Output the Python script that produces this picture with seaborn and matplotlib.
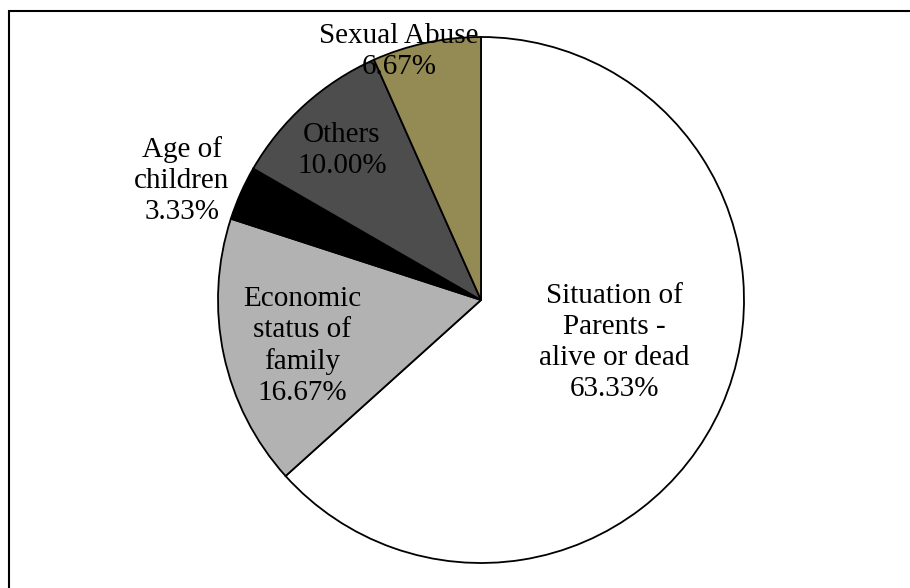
import matplotlib
matplotlib.use("Agg")
import matplotlib.pyplot as plt
import seaborn as sns
from matplotlib.patches import Rectangle

categories = ["Situation of\nParents -\nalive or dead", "Economic\nstatus of\nfamily",
              "Age of\nchildren", "Others", "Sexual Abuse"]
values = [63.33, 16.67, 3.33, 10.00, 6.67]
colors = ["#FFFFFF", "#B2B2B2", "#000000", "#4D4D4D", "#948A54"]
# label positions (in units of radius)
label_xy = [(0.507, -0.16), (-0.68, -0.175), (-1.137, 0.456), (-0.529, 0.57), (-0.312, 0.943)]

sns.set_theme(style="white")
plt.rcParams['font.family'] = ['Liberation Serif', 'DejaVu Serif']

fig = plt.figure(figsize=(9.1, 5.88), dpi=100)
ax = fig.add_axes([218/910, (588-563)/588, 526/910, 526/588])
ax.pie(values, colors=colors, startangle=90, counterclock=False, radius=1,
       wedgeprops=dict(edgecolor="black", linewidth=1.3))
ax.set_xlim(-1, 1)
ax.set_ylim(-1, 1)
ax.set_aspect("equal")
ax.axis("off")

for cat, v, (x, y) in zip(categories, values, label_xy):
    ax.text(x, y, f"{cat}\n{v:.2f}%", ha="center", va="center", fontsize=21,
            linespacing=1.25, color="black")

fig.patches.append(Rectangle((9/910, -0.2), 1.2, (588-11)/588 + 0.2, transform=fig.transFigure,
                             fill=False, edgecolor="black", linewidth=1.5))
fig.savefig("out.png", dpi=100, facecolor="white")
